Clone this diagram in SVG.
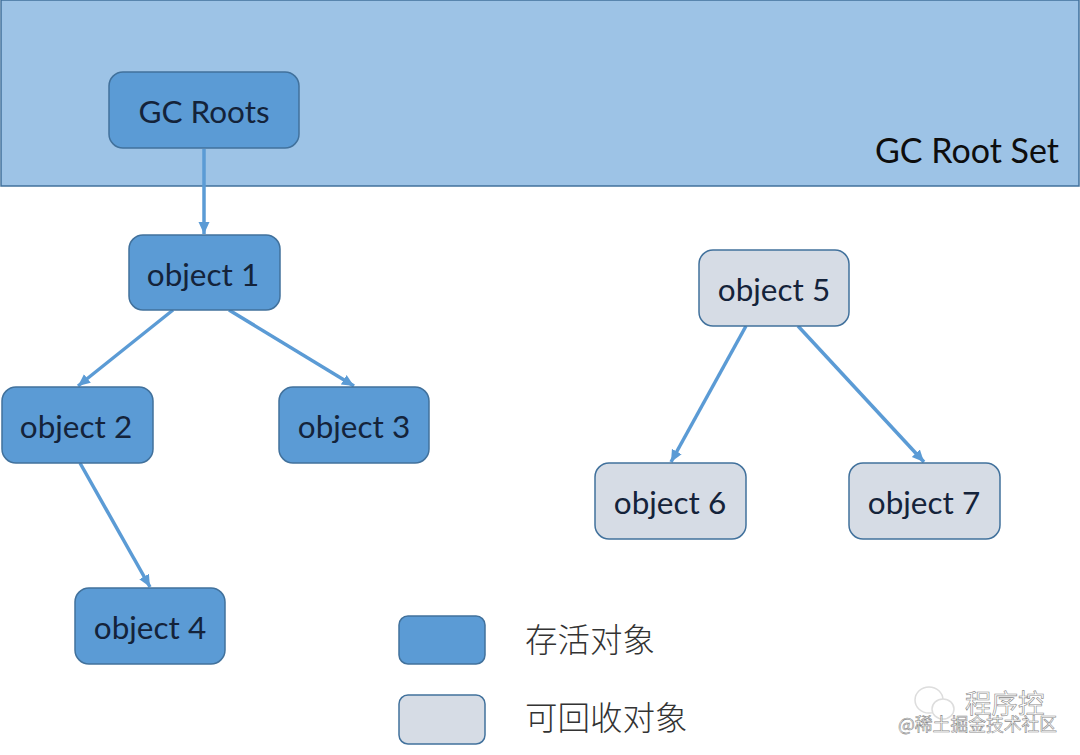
<svg xmlns="http://www.w3.org/2000/svg" width="1080" height="755" viewBox="0 0 1080 755">
<style>
.t{font-family:"Lato","Liberation Sans","Noto Sans CJK SC",sans-serif;font-size:31.5px;fill:#14233a;text-anchor:middle}
.z{font-family:"Noto Sans CJK SC",sans-serif;font-size:32.5px;font-weight:300;fill:#333}
.b{fill:#5b9bd5;stroke:#41719c;stroke-width:1.5}
.g{fill:#d6dce5;stroke:#41719c;stroke-width:1.5}
.c{stroke:#5b9bd5;stroke-width:3.5;fill:none;marker-end:url(#a)}
.w{font-family:"Noto Sans CJK SC",sans-serif;fill:#fff;stroke:#8a8a8a;stroke-width:.6}
</style>
<defs><marker id="a" markerUnits="userSpaceOnUse" markerWidth="13" markerHeight="13" refX="12" refY="6.5" orient="auto"><path d="M0 1L12 6.5L0 12z" fill="#5b9bd5"/></marker></defs>
<rect width="1080" height="755" fill="#fff"/>
<g id="root-set"><rect x="1" y="0" width="1078" height="186" fill="#9dc3e6" stroke="#41719c" stroke-width="1.5"/><text x="967" y="163" class="t" style="fill:#0d0d0d;font-size:34px">GC Root Set</text></g>
<g id="connectors">
<path class="c" d="M204 149V234"/><path class="c" d="M173 310L78 386"/><path class="c" d="M229 310L354 386"/><path class="c" d="M80 463L150 587"/><path class="c" d="M746 326L671 462"/><path class="c" d="M798 326L924 462"/>
</g>
<g id="gc-roots"><rect class="b" x="109" y="72" width="190" height="76" rx="14"/><text x="204" y="123" class="t">GC Roots</text></g>
<g id="object-1"><rect class="b" x="129" y="235" width="151" height="75" rx="14"/><text x="203" y="286" class="t">object 1</text></g>
<g id="object-2"><rect class="b" x="2" y="387" width="151" height="76" rx="14"/><text x="76" y="438" class="t">object 2</text></g>
<g id="object-3"><rect class="b" x="279" y="387" width="150" height="76" rx="14"/><text x="354" y="438" class="t">object 3</text></g>
<g id="object-4"><rect class="b" x="75" y="588" width="150" height="76" rx="14"/><text x="150" y="639" class="t">object 4</text></g>
<g id="object-5"><rect class="g" x="699" y="250" width="150" height="76" rx="14"/><text x="774" y="301" class="t">object 5</text></g>
<g id="object-6"><rect class="g" x="595" y="463" width="151" height="76" rx="14"/><text x="670" y="514" class="t">object 6</text></g>
<g id="object-7"><rect class="g" x="849" y="463" width="151" height="76" rx="14"/><text x="924" y="514" class="t">object 7</text></g>
<g id="legend-live"><rect class="b" x="399" y="616" width="86" height="48" rx="9"/><text x="525" y="652" class="z">存活对象</text></g>
<g id="legend-dead"><rect class="g" x="399" y="695" width="86" height="49" rx="9"/><text x="525" y="730" class="z">可回收对象</text></g>
<g id="watermark">
<ellipse cx="929" cy="700" rx="14" ry="13" fill="#fff" stroke="#ddd" stroke-width="1.5"/>
<ellipse cx="943" cy="709" rx="11" ry="10" fill="#fff" stroke="#ddd" stroke-width="1.5"/>
<text x="965" y="713" class="w" font-size="26.5">程序控</text>
<text x="898" y="731" class="w" font-size="17.8">@稀土掘金技术社区</text></g>
</svg>
